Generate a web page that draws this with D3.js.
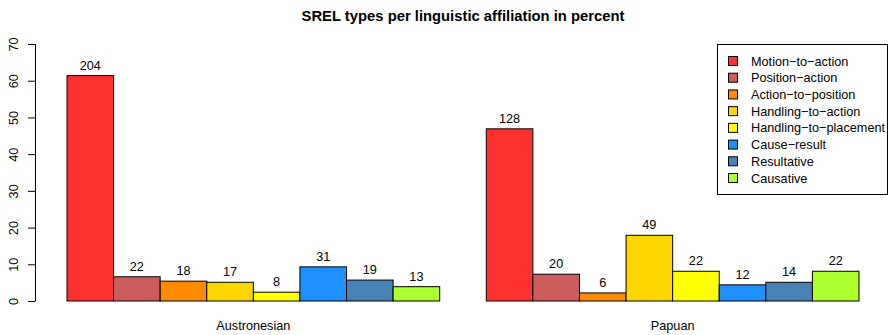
<!DOCTYPE html>
<html>
<head>
<meta charset="utf-8">
<script src="https://cdn.jsdelivr.net/npm/d3@7"></script>
<style>
  body { margin: 0; background: #fff; }
  svg { display: block; font-family: "Liberation Sans", Arial, Helvetica, sans-serif; }
</style>
</head>
<body>
<svg id="chart" width="888" height="335"></svg>
<script>
// ---- data ----
const groups = ["Austronesian", "Papuan"];
const seriesNames = ["Motion\u2212to\u2212action", "Position\u2212action", "Action\u2212to\u2212position",
  "Handling\u2212to\u2212action", "Handling\u2212to\u2212placement", "Cause\u2212result", "Resultative", "Causative"];
const seriesColors = ["#FF3030", "#CD5C5C", "#FF8C00", "#FFD700", "#FFFF00", "#1E90FF", "#4682B4", "#ADFF2F"];
// percent values per group
const austronesianPct = [61.4, 6.6, 5.4, 5.1, 2.4, 9.3, 5.7, 3.9];
const papuanPct = [46.9, 7.3, 2.2, 17.9, 8.1, 4.4, 5.1, 8.1];
// counts shown above the bars
const austronesianCounts = [204, 22, 18, 17, 8, 31, 19, 13];
const papuanCounts = [128, 20, 6, 49, 22, 12, 14, 22];
const yTicks = [0, 10, 20, 30, 40, 50, 60, 70];

const values = [austronesianPct, papuanPct];
const counts = [austronesianCounts, papuanCounts];
const FS = 12.7;

const svg = d3.select("#chart");

const x0 = d3.scaleBand().domain(groups).range([67, 859]).paddingInner(1 / 9).paddingOuter(0);
const x1 = d3.scaleBand().domain(seriesNames).range([0, x0.bandwidth()]).padding(0);
const y = d3.scaleLinear().domain([0, 70]).range([301, 44]);

// title
svg.append("text")
  .attr("x", 463).attr("y", 20.5)
  .attr("text-anchor", "middle")
  .attr("font-weight", "bold")
  .attr("font-size", 14.8)
  .text("SREL types per linguistic affiliation in percent");

// y axis
const yAxis = svg.append("g")
  .attr("transform", "translate(35.5,0)")
  .call(d3.axisLeft(y).tickValues(yTicks).tickSize(7.5).tickSizeOuter(0).tickPadding(0));
yAxis.select(".domain").attr("stroke", "#000").attr("d", `M0,${y(0)}V${y(70)}`);
yAxis.selectAll(".tick line").attr("stroke", "#000");
yAxis.selectAll(".tick text")
  .attr("font-size", FS)
  .attr("fill", "#000")
  .attr("font-family", "Liberation Sans, Arial, sans-serif")
  .attr("x", null).attr("dy", null)
  .attr("text-anchor", "middle")
  .attr("transform", "translate(-17.5,0) rotate(-90)")
  .attr("y", 0);

// bars
const gGroups = svg.selectAll("g.grp")
  .data(groups.map((g, i) => ({ g, vals: values[i], cnts: counts[i] })))
  .enter().append("g")
  .attr("class", "grp")
  .attr("transform", d => `translate(${x0(d.g)},0)`);

gGroups.selectAll("rect")
  .data(d => d.vals.map((v, j) => ({ v, s: seriesNames[j], c: seriesColors[j] })))
  .enter().append("rect")
  .attr("x", d => x1(d.s))
  .attr("y", d => y(d.v))
  .attr("width", x1.bandwidth())
  .attr("height", d => y(0) - y(d.v))
  .attr("fill", d => d.c)
  .attr("stroke", "#000")
  .attr("stroke-width", 1);

gGroups.selectAll("text.cnt")
  .data(d => d.vals.map((v, j) => ({ v, s: seriesNames[j], n: d.cnts[j] })))
  .enter().append("text")
  .attr("class", "cnt")
  .attr("x", d => x1(d.s) + x1.bandwidth() / 2)
  .attr("y", d => y(d.v) - 6)
  .attr("text-anchor", "middle")
  .attr("font-size", FS)
  .text(d => d.n);

// group labels
svg.selectAll("text.glab")
  .data(groups)
  .enter().append("text")
  .attr("class", "glab")
  .attr("x", d => x0(d) + x0.bandwidth() / 2)
  .attr("y", 330)
  .attr("text-anchor", "middle")
  .attr("font-size", FS)
  .text(d => d);

// legend
const lg = svg.append("g");
lg.append("rect")
  .attr("x", 717.5).attr("y", 44.5)
  .attr("width", 170).attr("height", 150)
  .attr("fill", "#fff").attr("stroke", "#000").attr("stroke-width", 1);
const legY = d3.scalePoint().domain(seriesNames).range([61, 178]);
const items = lg.selectAll("g.item").data(seriesNames.map((s, j) => ({ s, c: seriesColors[j] })))
  .enter().append("g").attr("class", "item");
items.append("rect")
  .attr("x", 728.5).attr("y", d => legY(d.s) - 4.5)
  .attr("width", 9).attr("height", 9)
  .attr("fill", d => d.c).attr("stroke", "#000").attr("stroke-width", 1);
items.append("text")
  .attr("x", 751).attr("y", d => legY(d.s) + 4.5)
  .attr("font-size", FS)
  .text(d => d.s);
</script>
</body>
</html>
